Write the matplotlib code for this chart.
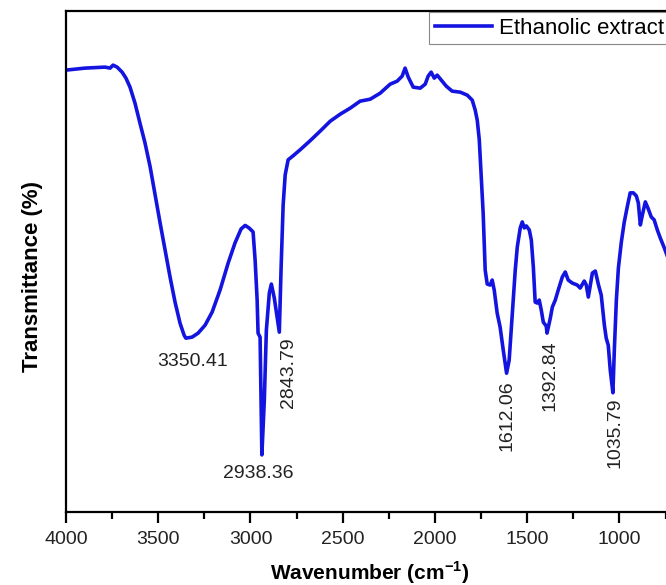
import matplotlib
matplotlib.use("Agg")
import matplotlib.pyplot as plt
from matplotlib.ticker import MultipleLocator

plt.rcParams['font.family'] = ['Liberation Sans', 'DejaVu Sans']

# FTIR spectrum of the ethanolic extract (wavenumber in cm-1, transmittance in %)
wavenumber = [4000, 3951, 3897, 3843, 3789, 3761, 3745, 3723, 3696, 3675,
              3653, 3626, 3599, 3572, 3544, 3517, 3490, 3463, 3436, 3409,
              3382, 3360, 3350.41, 3317, 3284, 3246, 3208, 3165, 3121, 3084,
              3051, 3029, 3008, 2986, 2975, 2964, 2959, 2948, 2938.36, 2925,
              2914, 2898, 2887, 2871, 2843.79, 2834, 2823, 2812, 2796, 2769,
              2731, 2677, 2623, 2568, 2514, 2460, 2406, 2351, 2297, 2243,
              2205, 2178, 2162, 2145, 2118, 2080, 2053, 2037, 2021, 2004,
              1988, 1966, 1939, 1907, 1863, 1825, 1798, 1782, 1771, 1760,
              1750, 1739, 1728, 1717, 1701, 1690, 1679, 1663, 1647, 1630,
              1612.06, 1598, 1581, 1565, 1554, 1538, 1527, 1516, 1505, 1489,
              1478, 1467, 1457, 1446, 1435, 1424, 1413, 1397, 1392.84, 1375,
              1364, 1348, 1332, 1310, 1294, 1278, 1256, 1229, 1213, 1191,
              1180, 1169, 1158, 1147, 1131, 1115, 1099, 1082, 1072, 1061,
              1050, 1035.79, 1028, 1017, 1006, 990, 974, 958, 942, 925,
              909, 898, 887, 876, 860, 844, 828, 812, 795, 779,
              757, 741, 725, 710]
transmittance = [88.2, 88.4, 88.6, 88.7, 88.8, 88.6, 89.2, 88.8, 87.8, 86.6,
                 84.8, 81.6, 77.6, 73.7, 68.9, 63.3, 57.7, 52.3, 46.9, 41.9,
                 37.7, 35.3, 34.7, 34.9, 35.7, 37.3, 39.9, 44.3, 49.7, 53.7,
                 56.5, 57.2, 56.7, 55.9, 50.3, 42.3, 35.7, 34.9, 11.4, 22.4,
                 36.3, 43.7, 45.5, 42.7, 35.9, 48.9, 61.3, 67.3, 70.3, 71.1,
                 72.3, 74.1, 76.0, 78.0, 79.4, 80.6, 82.0, 82.4, 83.6, 85.4,
                 86.0, 87.0, 88.6, 86.8, 84.8, 84.6, 85.4, 87.0, 87.8, 86.6,
                 87.2, 86.2, 85.0, 84.0, 83.8, 83.2, 82.2, 80.2, 78.2, 74.3,
                 67.3, 59.7, 48.3, 45.5, 45.3, 46.3, 44.3, 39.7, 36.9, 32.3,
                 27.7, 30.3, 39.7, 48.3, 52.9, 56.7, 57.9, 56.7, 57.1, 56.3,
                 54.3, 48.9, 41.9, 41.7, 42.3, 40.3, 37.9, 37.1, 35.7, 38.7,
                 40.9, 42.3, 44.3, 46.9, 47.9, 46.3, 45.7, 45.3, 44.7, 46.1,
                 45.3, 42.9, 45.3, 47.7, 48.1, 45.5, 43.3, 37.3, 34.7, 33.3,
                 28.3, 23.8, 32.3, 42.3, 48.7, 53.9, 57.9, 60.9, 63.7, 63.7,
                 63.1, 61.7, 57.3, 59.3, 61.9, 60.5, 58.9, 58.3, 56.3, 54.7,
                 52.7, 51.1, 49.5, 48.0]

# labelled absorption bands: (wavenumber, label offset in px, rotated?)
peaks = [3350.41, 2938.36, 2843.79, 1612.06, 1392.84, 1035.79]
peak_offsets = [(7, -15), (-4, -10), (9, -5), (0, -7), (3, -7), (2, -5)]
peak_rotated = [False, False, True, True, True, True]

line_color = '#1414e0'

fig = plt.figure(figsize=(6.66, 5.85), dpi=100)
ax = fig.add_axes([66 / 666, 73 / 585, 607 / 666, 501 / 585])

ax.plot(wavenumber, transmittance, color=line_color, lw=2.6,
        label='Ethanolic extract')

for wn, off, rot in zip(peaks, peak_offsets, peak_rotated):
    t = transmittance[wavenumber.index(wn)]
    ax.annotate('%.2f' % wn, xy=(wn, t), xytext=off,
                textcoords='offset pixels', ha='center', va='top',
                rotation=90 if rot else 0, fontsize=14, color='#222222')

ax.set_xlim(4000, 710)
ax.set_ylim(0, 100)
ax.xaxis.set_major_locator(MultipleLocator(500))
ax.xaxis.set_minor_locator(MultipleLocator(250))
ax.set_yticks([])
ax.tick_params(axis='x', which='major', direction='out', length=8,
               width=1.6, labelsize=14, labelcolor='#222222', pad=6)
ax.tick_params(axis='x', which='minor', direction='out', length=5, width=1.6)
for s in ax.spines.values():
    s.set_linewidth(1.6)

ax.set_xlabel('Wavenumber (cm$^{\\mathregular{-1}}$)', fontsize=15,
              fontweight='bold', labelpad=8)
ax.set_ylabel('Transmittance (%)', fontsize=16, fontweight='bold')
ax.yaxis.set_label_coords(-0.038, 0.47)

leg = ax.legend(loc='upper left', bbox_to_anchor=(429 / 666, 1 - 12 / 585),
                bbox_transform=fig.transFigure, borderaxespad=0,
                fancybox=False, fontsize=16, handlelength=2.6,
                handletextpad=0.3, borderpad=0.25, framealpha=1)
leg.get_frame().set_edgecolor('#888888')
leg.get_frame().set_linewidth(0.8)

fig.savefig('out.png', dpi=100)
